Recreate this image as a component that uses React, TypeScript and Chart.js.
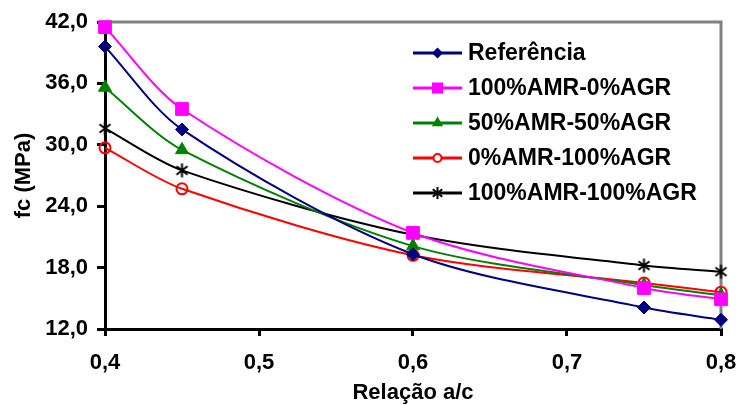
import React, { useEffect, useRef } from 'react';
import { Chart, registerables } from 'chart.js';

Chart.register(...registerables);

// ---- data ----
const xValues = [0.4, 0.45, 0.6, 0.75, 0.8];
const seriesNames = ['Referência', '100%AMR-0%AGR', '50%AMR-50%AGR', '0%AMR-100%AGR', '100%AMR-100%AGR'];
const referencia = [39.6, 31.5, 19.3, 14.1, 12.9];
const amr100agr0 = [41.5, 33.5, 21.4, 16.0, 14.9];
const amr50agr50 = [35.6, 29.5, 20.1, 16.3, 15.3];
const amr0agr100 = [29.7, 25.7, 19.2, 16.5, 15.6];
const amr100agr100 = [31.6, 27.5, 21.2, 18.2, 17.6];
const xTicks = [0.4, 0.5, 0.6, 0.7, 0.8];
const yTicks = [12, 18, 24, 30, 36, 42];
const xTitle = 'Relação a/c';
const yTitle = 'fc (MPa)';

const seriesValues = [referencia, amr100agr0, amr50agr50, amr0agr100, amr100agr100];
const colors = ['#000080', '#FF00FF', '#008000', '#FF0000', '#000000'];
const markers = ['diamond', 'square', 'triangle', 'circle', 'asterisk'];

const FONT = '"Liberation Sans", Arial, sans-serif';

function asteriskPath(g: CanvasRenderingContext2D, x: number, y: number, r: number) {
  const a = (38 * Math.PI) / 180;
  g.moveTo(x, y - r);
  g.lineTo(x, y + r);
  g.moveTo(x - r * Math.cos(a), y - r * Math.sin(a));
  g.lineTo(x + r * Math.cos(a), y + r * Math.sin(a));
  g.moveTo(x - r * Math.cos(a), y + r * Math.sin(a));
  g.lineTo(x + r * Math.cos(a), y - r * Math.sin(a));
}

function makeAsterisk(size: number, lw: number): HTMLCanvasElement {
  const c = document.createElement('canvas');
  c.width = size;
  c.height = size;
  const g = c.getContext('2d')!;
  g.strokeStyle = '#000';
  g.lineWidth = lw;
  g.beginPath();
  asteriskPath(g, size / 2, size / 2, size / 2 - 1.5);
  g.stroke();
  return c;
}

function drawMarker(ctx: CanvasRenderingContext2D, kind: string, x: number, y: number, color: string) {
  ctx.save();
  ctx.fillStyle = color;
  ctx.strokeStyle = color;
  ctx.lineWidth = 2;
  ctx.beginPath();
  if (kind === 'diamond') {
    const r = 5.5;
    ctx.moveTo(x, y - r); ctx.lineTo(x + r, y); ctx.lineTo(x, y + r); ctx.lineTo(x - r, y); ctx.closePath();
    ctx.fill();
  } else if (kind === 'square') {
    const h = 5.5;
    ctx.rect(x - h, y - h, 2 * h, 2 * h);
    ctx.fill();
  } else if (kind === 'triangle') {
    const r = 6.5;
    ctx.moveTo(x, y - r);
    ctx.lineTo(x + r * 0.866, y + r * 0.5);
    ctx.lineTo(x - r * 0.866, y + r * 0.5);
    ctx.closePath();
    ctx.fill();
  } else if (kind === 'circle') {
    ctx.fillStyle = '#fff';
    ctx.arc(x, y, 4, 0, Math.PI * 2);
    ctx.fill();
    ctx.stroke();
  } else {
    ctx.lineWidth = 2;
    ctx.strokeStyle = '#000';
    asteriskPath(ctx, x, y, 6);
    ctx.stroke();
  }
  ctx.restore();
}

const legendPlugin = {
  id: 'customLegend',
  afterDraw(chart: any) {
    const ctx: CanvasRenderingContext2D = chart.ctx;
    const x0 = 413;
    const x1 = 462;
    const textX = 468;
    const y0 = 53;
    const step = 35;
    ctx.save();
    chart.data.datasets.forEach((ds: any, i: number) => {
      const y = y0 + i * step;
      ctx.strokeStyle = colors[i];
      ctx.lineWidth = 3;
      ctx.beginPath();
      ctx.moveTo(x0, y);
      ctx.lineTo(x1, y);
      ctx.stroke();
      drawMarker(ctx, markers[i], (x0 + x1) / 2, y, colors[i]);
      ctx.fillStyle = '#000';
      ctx.font = `bold 23px ${FONT}`;
      ctx.textBaseline = 'middle';
      ctx.textAlign = 'left';
      ctx.fillText(ds.label, textX, y + 1);
    });
    ctx.restore();
  },
};

const framePlugin = {
  id: 'frame',
  beforeDatasetsDraw(chart: any) {
    const { ctx, chartArea } = chart;
    ctx.save();
    ctx.strokeStyle = '#808080';
    ctx.lineWidth = 3;
    ctx.beginPath();
    ctx.moveTo(chartArea.left, chartArea.top);
    ctx.lineTo(chartArea.right, chartArea.top);
    ctx.lineTo(chartArea.right, chartArea.bottom);
    ctx.stroke();
    ctx.restore();
  },
};

export default function App() {
  const canvasRef = useRef<HTMLCanvasElement | null>(null);

  useEffect(() => {
    if (!canvasRef.current) return;
    const asterisk = makeAsterisk(17, 2);
    const pointStyleFor = (k: string): any => {
      if (k === 'diamond') return 'rectRot';
      if (k === 'square') return 'rect';
      if (k === 'triangle') return 'triangle';
      if (k === 'circle') return 'circle';
      return asterisk;
    };
    const radiusFor = (k: string) => {
      if (k === 'diamond') return 6.5;
      if (k === 'square') return 9;
      if (k === 'triangle') return 7.5;
      if (k === 'circle') return 5.5;
      return 8;
    };

    const datasets = seriesValues.map((vals, i) => ({
      label: seriesNames[i],
      data: vals.map((v, j) => ({ x: xValues[j], y: v })),
      borderColor: colors[i],
      backgroundColor: markers[i] === 'circle' ? 'rgba(0,0,0,0)' : colors[i],
      pointBackgroundColor: markers[i] === 'circle' ? 'rgba(0,0,0,0)' : colors[i],
      pointBorderColor: colors[i],
      pointBorderWidth: markers[i] === 'circle' ? 2 : 1,
      borderWidth: 2,
      pointStyle: pointStyleFor(markers[i]),
      pointRadius: radiusFor(markers[i]),
      tension: 0.3,
      fill: false,
      clip: false as any,
    }));

    const tickFont = { family: FONT, size: 22, weight: 'bold' as const };

    const chart = new Chart(canvasRef.current, {
      type: 'line',
      data: { datasets },
      plugins: [framePlugin, legendPlugin],
      options: {
        responsive: false,
        animation: false,
        layout: { padding: { left: 0, right: 18, top: 22, bottom: 0 } },
        plugins: {
          legend: { display: false },
          tooltip: { enabled: false },
        },
        scales: {
          x: {
            type: 'linear',
            min: 0.4,
            max: 0.8,
            afterBuildTicks: (s: any) => {
              s.ticks = xTicks.map((v) => ({ value: v }));
            },
            afterFit: (s: any) => {
              s.height = 76;
              s.paddingLeft = 0;
              s.paddingRight = 0;
            },
            ticks: {
              color: '#000',
              font: tickFont,
              padding: 14,
              maxRotation: 0,
              autoSkip: false,
              callback: (v: any) => Number(v).toFixed(1).replace('.', ','),
            },
            grid: {
              display: true,
              drawOnChartArea: false,
              drawTicks: true,
              tickLength: 7,
              color: '#000',
              lineWidth: 3,
            },
            border: { display: true, color: '#000', width: 3 },
            title: {
              display: true,
              text: xTitle,
              color: '#000',
              font: { family: FONT, size: 22, weight: 'bold' },
              padding: { top: 0, bottom: -1 },
            },
          },
          y: {
            type: 'linear',
            min: 12,
            max: 42,
            afterBuildTicks: (s: any) => {
              s.ticks = yTicks.map((v) => ({ value: v }));
            },
            afterFit: (s: any) => {
              s.width = 105;
              s.paddingTop = 0;
              s.paddingBottom = 0;
            },
            ticks: {
              color: '#000',
              font: tickFont,
              padding: 9,
              autoSkip: false,
              callback: (v: any) => Number(v).toFixed(1).replace('.', ','),
            },
            grid: {
              display: true,
              drawOnChartArea: false,
              drawTicks: true,
              tickLength: 8,
              color: '#000',
              lineWidth: 3,
            },
            border: { display: true, color: '#000', width: 3 },
            title: {
              display: true,
              text: yTitle,
              color: '#000',
              font: { family: FONT, size: 22, weight: 'bold' },
              padding: { top: 11, bottom: 0 },
            },
          },
        },
      } as any,
    });
    return () => chart.destroy();
  }, []);

  return (
    <div style={{ position: 'absolute', left: 0, top: 0, width: 739, height: 405, background: '#fff' }}>
      <canvas ref={canvasRef} width={739} height={405} />
    </div>
  );
}
